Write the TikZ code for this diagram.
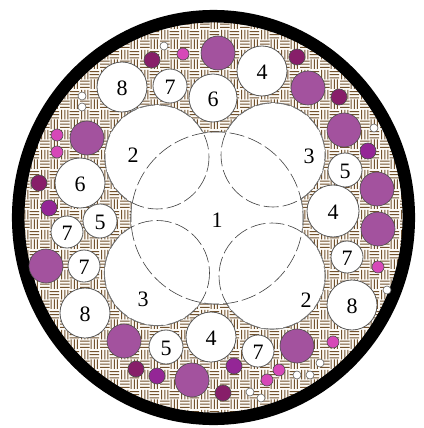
\documentclass[tikz,border=0pt]{standalone}
\usepackage{fontspec}
\setmainfont{Liberation Serif}
\usetikzlibrary{patterns}
\definecolor{hatchbrown}{RGB}{115,82,45}
\definecolor{hatchbg}{RGB}{252,250,246}
\definecolor{bigpurple}{RGB}{163,82,158}
\definecolor{darkpurple}{RGB}{135,30,105}
\definecolor{midpurple}{RGB}{148,38,150}
\definecolor{pinkc}{RGB}{214,72,184}
\pgfdeclarepatternformonly{basket}{\pgfpointorigin}{\pgfpoint{20pt}{20pt}}{\pgfpoint{20pt}{20pt}}{%
  \pgfsetlinewidth{1pt}%
  \pgfpathmoveto{\pgfpoint{0pt}{1.7pt}}\pgfpathlineto{\pgfpoint{10pt}{1.7pt}}%
  \pgfpathmoveto{\pgfpoint{0pt}{5pt}}\pgfpathlineto{\pgfpoint{10pt}{5pt}}%
  \pgfpathmoveto{\pgfpoint{0pt}{8.3pt}}\pgfpathlineto{\pgfpoint{10pt}{8.3pt}}%
  \pgfpathmoveto{\pgfpoint{11.7pt}{0pt}}\pgfpathlineto{\pgfpoint{11.7pt}{10pt}}%
  \pgfpathmoveto{\pgfpoint{15pt}{0pt}}\pgfpathlineto{\pgfpoint{15pt}{10pt}}%
  \pgfpathmoveto{\pgfpoint{18.3pt}{0pt}}\pgfpathlineto{\pgfpoint{18.3pt}{10pt}}%
  \pgfpathmoveto{\pgfpoint{1.7pt}{10pt}}\pgfpathlineto{\pgfpoint{1.7pt}{20pt}}%
  \pgfpathmoveto{\pgfpoint{5pt}{10pt}}\pgfpathlineto{\pgfpoint{5pt}{20pt}}%
  \pgfpathmoveto{\pgfpoint{8.3pt}{10pt}}\pgfpathlineto{\pgfpoint{8.3pt}{20pt}}%
  \pgfpathmoveto{\pgfpoint{10pt}{11.7pt}}\pgfpathlineto{\pgfpoint{20pt}{11.7pt}}%
  \pgfpathmoveto{\pgfpoint{10pt}{15pt}}\pgfpathlineto{\pgfpoint{20pt}{15pt}}%
  \pgfpathmoveto{\pgfpoint{10pt}{18.3pt}}\pgfpathlineto{\pgfpoint{20pt}{18.3pt}}%
  \pgfusepath{stroke}}
\begin{document}
\begin{tikzpicture}[x=1pt,y=-1pt,
  wc/.style={fill=white,draw=black!65,line width=0.8pt},
  bigout/.style={fill=white,draw=black!65,line width=1.2pt},
  dashline/.style={draw=black!75,line width=0.6pt,dash pattern=on 15pt off 4pt},
  lpc/.style={fill=bigpurple,draw=black!70,line width=0.6pt},
  dpc/.style={fill=darkpurple,draw=black!70,line width=0.6pt},
  mpc/.style={fill=midpurple,draw=black!70,line width=0.6pt},
  pkc/.style={fill=pinkc,draw=black!70,line width=0.6pt},
  twc/.style={fill=white,draw=black!60,line width=0.6pt},
  lbl/.style={font=\fontsize{22}{26}\selectfont,inner sep=0pt}]
\useasboundingbox (0,0) rectangle (423,428);
% hatched filler
\fill[hatchbg] (213.5,217.5) ellipse[x radius=196, y radius=202];
\fill[pattern=basket,pattern color=hatchbrown] (213.5,217.5) ellipse[x radius=196, y radius=202];
% outer sheath
\draw[line width=12.5pt] (213.5,217.5) ellipse[x radius=195.3, y radius=201.3];
% big conductors
\foreach \cx/\cy/\r in {217/218/86,157/157/52,273/155/52,157/273/52.5,272/276/53}
  \draw[bigout] (\cx,\cy) circle[radius=\r];
\fill[white] (217,218) circle[radius=86] (157,157) circle[radius=52] (273,155) circle[radius=52]
  (157,273) circle[radius=52.5] (272,276) circle[radius=53];
\begin{scope}
\clip (217,218) circle[radius=86] (157,157) circle[radius=52] (273,155) circle[radius=52]
  (157,273) circle[radius=52.5] (272,276) circle[radius=53];
\foreach \cx/\cy/\r in {217/218/86,157/157/52,273/155/52,157/273/52.5,272/276/53}
  \draw[dashline] (\cx,\cy) circle[radius=\r];
\end{scope}
\node[lbl] (n1) at (217,220) {1};
\node[lbl] (n2a) at (133,155) {2};
\node[lbl] (n3a) at (309,156) {3};
\node[lbl] (n3b) at (143,299) {3};
\node[lbl] (n2b) at (306,300) {2};
% numbered white circles
\foreach \cx/\cy/\r/\t [count=\i] in {122/87/25/8,170/86/17/7,213/98/24/6,262/71/25/4,
  345/170/17/5,333/211/26/4,347/257/16/7,352/305/25/8,258/351/16/7,211/337/25/4,
  166/347/17/5,85/313/25/8,84/266/16/7,67/232/16/7,100/221/17/5,80/183/25/6}{
  \draw[wc] (\cx,\cy) circle[radius=\r];
  \node[lbl] (w\i) at (\cx,\cy+1) {\t};
}
% large purple
\foreach \cx/\cy in {218/53,308/88,344/130,87/138,377/189,378/229,46/266,124/341,192/380,297/346}
  \draw[lpc] (\cx,\cy) circle[radius=17];
% dark purple
\foreach \cx/\cy in {152/60,297/57,339/97,39/183,136/369,223/393}
  \draw[dpc] (\cx,\cy) circle[radius=8];
% medium purple
\foreach \cx/\cy in {368/151,49/208,157/376,234/366}
  \draw[mpc] (\cx,\cy) circle[radius=8];
% pink
\foreach \cx/\cy in {183/54,57/135,57/152,378/267,333/342,279/370,267/380}
  \draw[pkc] (\cx,\cy) circle[radius=6];
% tiny white
\foreach \cx/\cy in {164/46,82/96,82/107,374/128,387/290,320/363,310/375,297/375,250/392,261/398}
  \draw[twc] (\cx,\cy) circle[radius=4];
\end{tikzpicture}
\end{document}
